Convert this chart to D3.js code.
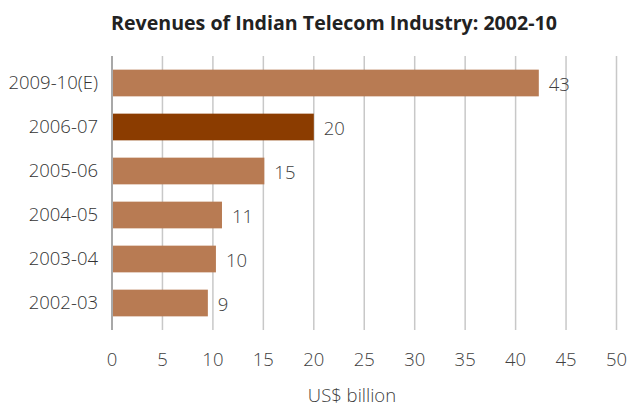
<!DOCTYPE html>
<html><head><meta charset="utf-8">
<script src="https://cdn.jsdelivr.net/npm/d3@7"></script>
<style>body{margin:0;background:#fff}svg{display:block}</style>
</head><body>
<svg id="c" width="628" height="407"></svg>
<script>
const categories = ["2009-10(E)","2006-07","2005-06","2004-05","2003-04","2002-03"];
const values = [42.3, 20, 15.1, 10.9, 10.3, 9.5];
const valueLabels = ["43","20","15","11","10","9"];
const highlight = ["2006-07"];
const xTicks = [0,5,10,15,20,25,30,35,40,45,50];
const title = "Revenues of Indian Telecom Industry: 2002-10";
const xTitle = "US$ billion";

const svg = d3.select("#c");
const font = "'Open Sans', sans-serif";
const x = d3.scaleLinear().domain([0,50]).range([112,616.5]);
const y = d3.scaleBand().domain(categories).range([56,330]).paddingInner(0.393).paddingOuter(0.31);

svg.append("text").attr("x",334).attr("y",30).attr("text-anchor","middle")
  .attr("font-family",font).attr("font-weight","bold").attr("font-size",19.6)
  .attr("fill","#222").text(title);

// grid
svg.append("g").selectAll("line").data(xTicks.slice(1)).join("line")
  .attr("x1",d=>x(d)).attr("x2",d=>x(d)).attr("y1",56).attr("y2",330)
  .attr("stroke","#c8c8c8").attr("stroke-width",1.5);

// bars
svg.append("g").selectAll("rect").data(categories).join("rect")
  .attr("x",x(0)).attr("y",d=>y(d)).attr("height",y.bandwidth())
  .attr("width",(d,i)=>x(values[i])-x(0))
  .attr("fill",d=>highlight.includes(d)?"#8b3c00":"#b87b53");

// axis line
svg.append("line").attr("x1",x(0)).attr("x2",x(0)).attr("y1",56).attr("y2",330)
  .attr("stroke","#a8a8a8").attr("stroke-width",2);

const lw = 300, fs = 18.5;
// value labels
svg.append("g").selectAll("text").data(categories).join("text")
  .attr("x",(d,i)=>x(values[i])+10).attr("y",d=>y(d)+y.bandwidth()/2+2)
  .attr("dy","0.35em").attr("font-family",font).attr("font-size",fs).attr("font-weight",lw)
  .attr("fill","#404040").text((d,i)=>valueLabels[i]);

// category labels
svg.append("g").selectAll("text").data(categories).join("text")
  .attr("x",98).attr("y",d=>y(d)+y.bandwidth()/2)
  .attr("dy","0.35em").attr("text-anchor","end").attr("font-family",font).attr("font-size",fs).attr("font-weight",lw)
  .attr("fill","#333").text(d=>d);

// x tick labels
svg.append("g").selectAll("text").data(xTicks).join("text")
  .attr("x",d=>x(d)).attr("y",360).attr("dy","0.35em").attr("text-anchor","middle")
  .attr("font-family",font).attr("font-size",fs).attr("font-weight",lw).attr("fill","#404040").text(d=>d);

svg.append("text").attr("x",352).attr("y",396).attr("dy","0.35em").attr("text-anchor","middle")
  .attr("font-family",font).attr("font-size",fs).attr("font-weight",lw).attr("fill","#404040").text(xTitle);
</script>
</body></html>
